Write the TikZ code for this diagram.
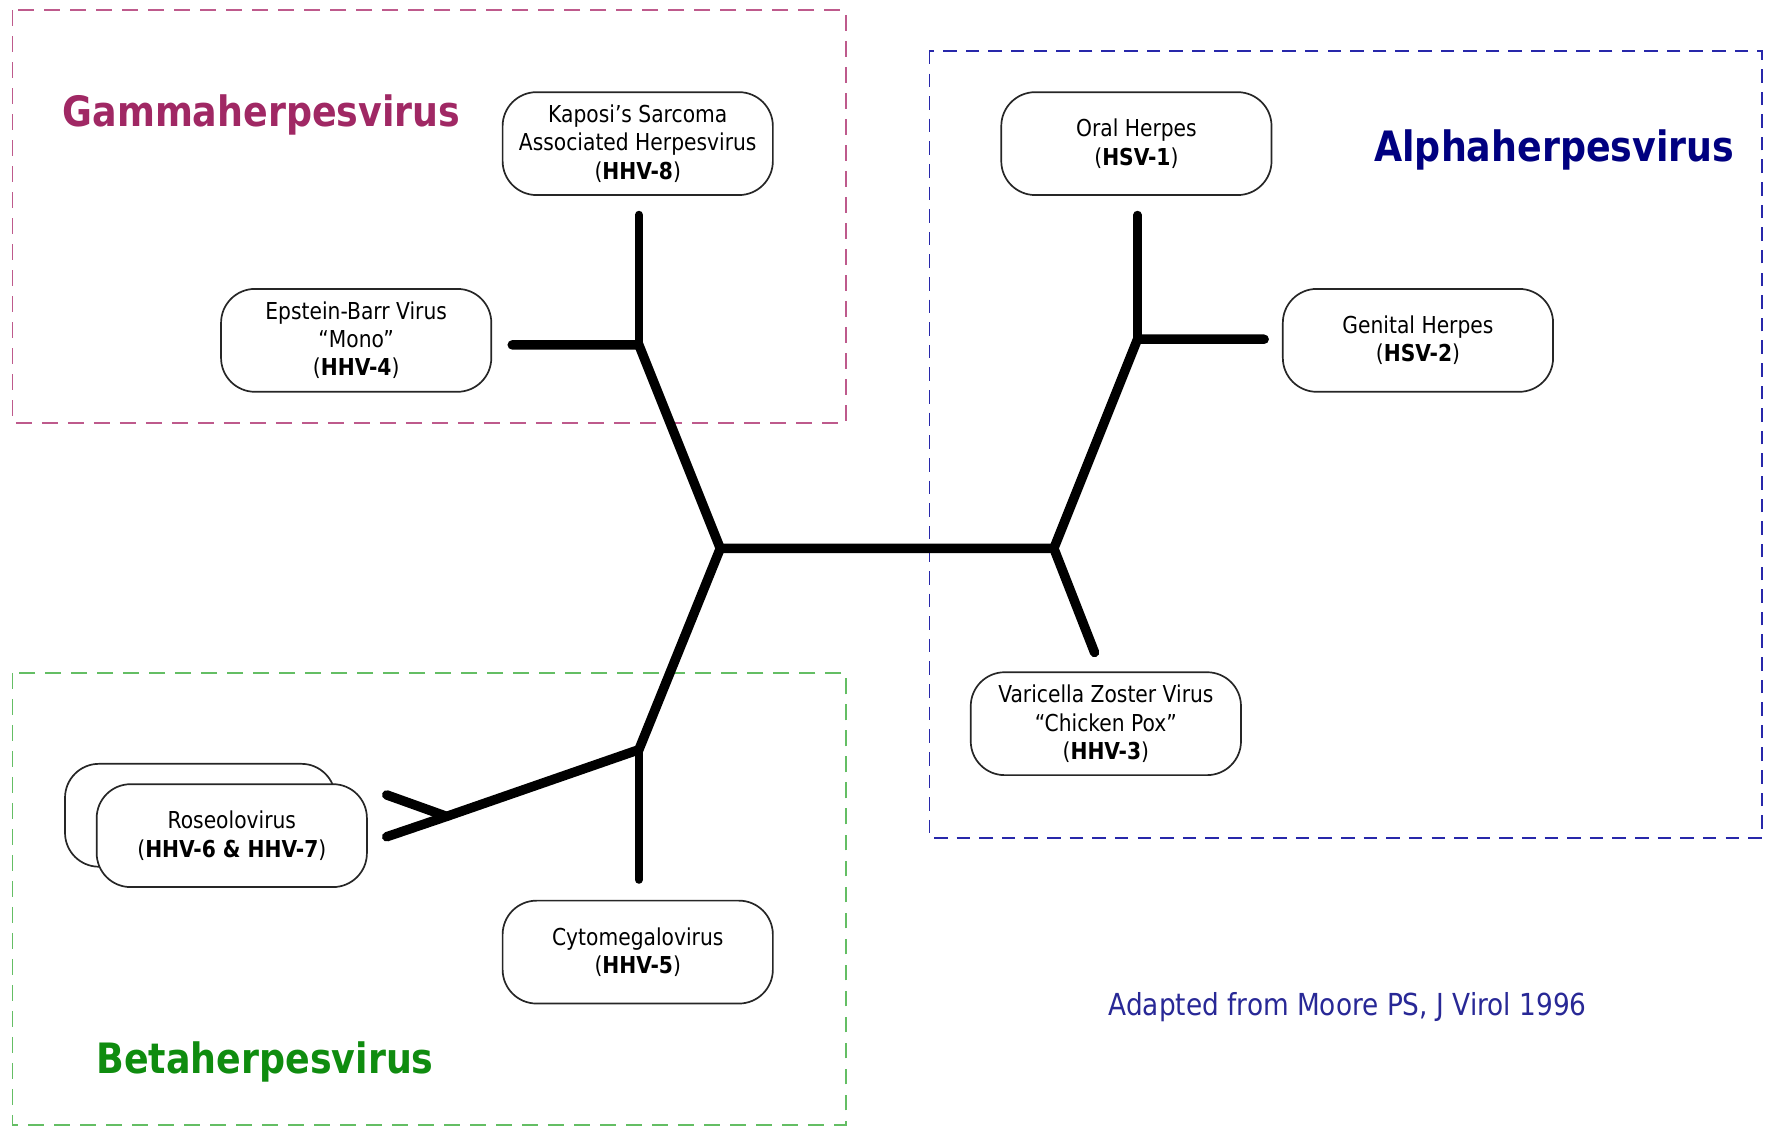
\documentclass[tikz,border=0pt]{standalone}
\usepackage{fontspec}
\setmainfont{DejaVu Sans}[FakeStretch=0.87]
\definecolor{gammaline}{RGB}{190,90,140}
\definecolor{gammatext}{RGB}{160,40,100}
\definecolor{alphaline}{RGB}{40,40,170}
\definecolor{alphatext}{RGB}{0,0,128}
\definecolor{betaline}{RGB}{100,190,100}
\definecolor{betatext}{RGB}{15,140,15}
\definecolor{credittext}{RGB}{40,40,150}
\tikzset{
  vnode/.style={draw=black!85, line width=0.75pt, rounded corners=15pt,
    minimum width=119.5pt, minimum height=45.5pt, align=center, fill=white,
    inner sep=0pt, font=\fontsize{10.3}{12.5}\selectfont},
  grpbox/.style={line width=0.75pt, dash pattern=on 7pt off 4.5pt},
  grptitle/.style={anchor=base west, inner sep=0pt, font=\fontsize{18.5}{20}\selectfont\bfseries},
  tree/.style={line width=4.2pt, line cap=round, line join=miter, black},
  thintree/.style={line width=3.6pt, line cap=round, black},
}
\begin{document}
\begin{tikzpicture}[x=0.5pt,y=-0.5pt]
\useasboundingbox (0,0) rectangle (1568,997);
% group boxes
\draw[grpbox, gammaline] (11,9) rectangle (748,374);
\draw[grpbox, alphaline, dash pattern=on 6pt off 4pt] (822,45) rectangle (1558,741);
\draw[grpbox, betaline] (11,595) rectangle (748,995);
% titles
\node[grptitle, gammatext] (gammaT) at (55,112) {Gammaherpesvirus};
\node[grptitle, alphatext] (alphaT) at (1215,143) {Alphaherpesvirus};
\node[grptitle, betatext] (betaT) at (85,949) {Betaherpesvirus};
\node[anchor=base west, inner sep=0pt, text=credittext, font=\fontsize{13.4}{15}\selectfont] (credit) at (980,898) {Adapted from Moore PS, J Virol 1996};
% tree coordinates
\coordinate (cL) at (637,485);
\coordinate (cR) at (932,485);
\coordinate (gJ) at (565,305);
\coordinate (gU) at (565,190);
\coordinate (gL) at (453,305);
\coordinate (bJ) at (565,663);
\coordinate (bD) at (565,778);
\coordinate (bF) at (395,722);
\coordinate (bE1) at (342,703);
\coordinate (bE2) at (342,740);
\coordinate (aJ) at (1006,300);
\coordinate (aU) at (1006,190);
\coordinate (aR) at (1118,300);
\coordinate (aD) at (968,577);
% tree
\draw[tree] (gL) -- (gJ) -- (cL) -- (cR) -- (aJ) -- (aR);
\draw[thintree] (gU) -- (gJ);
\draw[thintree] (aU) -- (aJ);
\draw[tree] (cL) -- (bJ) -- (bF) -- (bE2);
\draw[tree] (bF) -- (bE1);
\draw[thintree] (bJ) -- (bD);
\draw[tree] (cR) -- (aD);
% virus nodes
\node[vnode] (hhv8) at (564,127) {Kaposi’s Sarcoma\\Associated Herpesvirus\\(\textbf{HHV-8})};
\node[vnode] (hhv4) at (315,301) {Epstein-Barr Virus\\“Mono”\\(\textbf{HHV-4})};
\node[vnode] (hsv1) at (1005,127) {Oral Herpes\\(\textbf{HSV-1})};
\node[vnode] (hsv2) at (1254,301) {Genital Herpes\\(\textbf{HSV-2})};
\node[vnode] (hhv3) at (978,640) {Varicella Zoster Virus\\“Chicken Pox”\\(\textbf{HHV-3})};
\node[vnode] (roseoB) at (177,721) {};
\node[vnode] (roseo) at (205,739) {Roseolovirus\\(\textbf{HHV-6 \& HHV-7})};
\node[vnode] (hhv5) at (564,842) {Cytomegalovirus\\(\textbf{HHV-5})};
\end{tikzpicture}
\end{document}
